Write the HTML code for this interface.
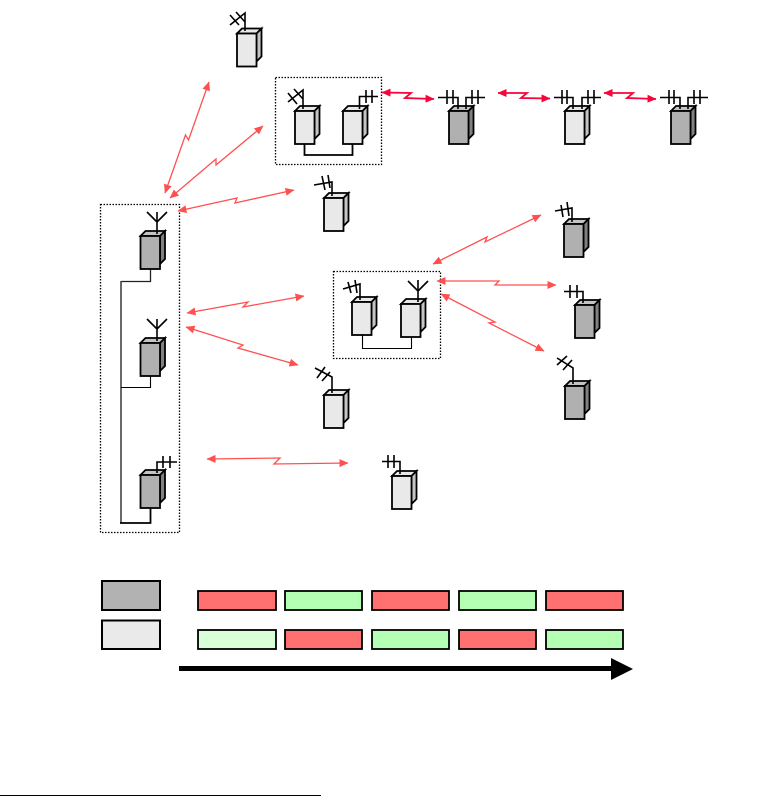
<!DOCTYPE html>
<html><head><meta charset="utf-8"><style>html,body{margin:0;padding:0;background:#fff}svg{display:block}</style></head><body>
<svg width="763" height="796" viewBox="0 0 763 796" xmlns="http://www.w3.org/2000/svg" fill="none" stroke="#000">
<defs>
<g id="d" stroke-width="1.8"><path d="M0 0l5-5h19.500l-5 5z" fill="#c4c4c4"/><path d="M19.500 0l5-5v28l-5 5z" fill="#808080"/><rect width="19.500" height="33" fill="#b0b0b0"/></g>
<g id="l" stroke-width="1.8"><path d="M0 0l5-5h19.500l-5 5z" fill="#e8e8e8"/><path d="M19.500 0l5-5v28l-5 5z" fill="#c4c4c4"/><rect width="19.500" height="33" fill="#e9e9e9"/></g>
<marker id="a" markerWidth="9" markerHeight="8" refX="8.500" refY="4" orient="auto-start-reverse" markerUnits="userSpaceOnUse"><path d="M0 0L9 4L0 8z" fill="#ff5050" stroke="none"/></marker>
<marker id="b" markerWidth="9" markerHeight="8" refX="8.500" refY="4" orient="auto-start-reverse" markerUnits="userSpaceOnUse"><path d="M0 0L9 4L0 8z" fill="#f5053a" stroke="none"/></marker>
</defs>

<!-- dotted groups -->
<g stroke-width="1.300" stroke-dasharray="1.500 1.500">
<rect x="100.500" y="204.500" width="79" height="328"/>
<rect x="275.500" y="77.500" width="106" height="87"/>
<rect x="333.500" y="271.500" width="107" height="87"/>
</g>

<!-- group wiring -->
<path d="M304.500 144V155H352.500V144" stroke-width="1.800"/>
<path d="M362.500 334V348.500H411.500V336" stroke-width="1.100"/>
<path d="M121 281.500H150.500V268" stroke-width="1.300" stroke="#222"/>
<path d="M121 281V523" stroke-width="1.600" stroke="#444"/>
<path d="M121 387.500H150.500V375" stroke-width="1.100"/>
<path d="M120 523H150.500V508" stroke-width="1.800"/>

<!-- boxes -->
<use href="#l" x="237" y="33.500"/>
<use href="#l" x="295" y="111"/>
<use href="#l" x="343" y="111"/>
<use href="#d" x="449" y="111"/>
<use href="#l" x="565" y="111"/>
<use href="#d" x="671" y="111"/>
<use href="#l" x="324" y="198"/>
<use href="#d" x="140.500" y="236"/>
<use href="#d" x="140.500" y="343"/>
<use href="#d" x="140.500" y="475"/>
<use href="#l" x="352" y="302"/>
<use href="#l" x="401" y="304"/>
<use href="#l" x="324" y="395"/>
<use href="#d" x="564" y="224"/>
<use href="#d" x="575" y="305"/>
<use href="#d" x="565" y="386"/>
<use href="#l" x="392" y="476"/>

<!-- antennas -->
<g stroke-width="1.600">
<path d="M245 31V13L230 25M230 15L239 25M236 12L245 22"/>
<path d="M303 109V90L288 102M288 93L297 104M294 89L303 99"/>
<path d="M359.500 109V96.500H378M366 90V103M372 90V103"/>
<path d="M458 109V97.500H438M447 90V104M453 90V104M466 109V97.500H485M472 90V104M478 90V104"/>
<path d="M573 109V97.500H554M562 90V104M567 90V104M582 109V97.500H601M588 90V104M594 90V104"/>
<path d="M680 109V97.500H660M669 90V104M674 90V104M688 109V97.500H708M694 90V104M700 90V104"/>
<path d="M157 234V212M157 222L147 212M157 222L167 212"/>
<path d="M157 341V319M157 329L147 319M157 329L167 319"/>
<path d="M157 473V462H177M163 456V468M170 456V468"/>
<path d="M332 196V182L314 185M322 176L325 190M328 175L330 188"/>
<path d="M360 300V284L343 289M348 282L351 293M355 280L357 293"/>
<path d="M418 302V280M418 291L408 281M418 291L428 281"/>
<path d="M332 393V377L315 368M317 378L325 367M322 381L330 372"/>
<path d="M400 474V461.500H382M388 455V468M394 455V468"/>
<path d="M572 222V208L555 211M561 205L563 217M567 202L569 216"/>
<path d="M583 303V291.500H564M570 285V298M577 285V298"/>
<path d="M573 384V368L557 358M557 365L567 356M563 370L572 360"/>
</g>

<!-- links -->
<g stroke="#ff5050" stroke-width="1.300">
<path d="M209 82L188.500 140L185.500 135L165 193" marker-start="url(#a)" marker-end="url(#a)"/>
<path d="M263 126L216 165L216 159L170 198" marker-start="url(#a)" marker-end="url(#a)"/>
<path d="M294 190L235 203L237 198L178 211" marker-start="url(#a)" marker-end="url(#a)"/>
<path d="M541 215L485 242L487 237L433 264" marker-start="url(#a)" marker-end="url(#a)"/>
<path d="M437 281L499 281L495 285L556 285" marker-start="url(#a)" marker-end="url(#a)"/>
<path d="M441 294L495 322L489 323L544 351" marker-start="url(#a)" marker-end="url(#a)"/>
<path d="M304 296L243 307L248 302L187 313" marker-start="url(#a)" marker-end="url(#a)"/>
<path d="M186 327L243 345L238 348L298 365" marker-start="url(#a)" marker-end="url(#a)"/>
<path d="M207 459L280 458L274 464L348 463" marker-start="url(#a)" marker-end="url(#a)"/>
</g>
<g stroke="#f5053a" stroke-width="1.800">
<path d="M382 92.500L411 93L405 98L434 99" marker-start="url(#b)" marker-end="url(#b)"/>
<path d="M498 93L527 93L521 98L550 98.500" marker-start="url(#b)" marker-end="url(#b)"/>
<path d="M604 93L633 93L627 98L656 99" marker-start="url(#b)" marker-end="url(#b)"/>
</g>

<!-- legend -->
<rect x="102" y="581" width="58" height="29" fill="#b2b2b2" stroke-width="2"/>
<rect x="102" y="620.500" width="58" height="28.500" fill="#eaeaea" stroke-width="2"/>
<g stroke-width="1.800">
<rect x="198" y="591" width="78" height="19" fill="#ff7070"/>
<rect x="285" y="591" width="77" height="19" fill="#b4ffb4"/>
<rect x="372" y="591" width="77" height="19" fill="#ff7070"/>
<rect x="459" y="591" width="77" height="19" fill="#b4ffb4"/>
<rect x="546" y="591" width="77" height="19" fill="#ff7070"/>
<rect x="198" y="630" width="78" height="19" fill="#d8ffd8"/>
<rect x="285" y="630" width="77" height="19" fill="#ff7070"/>
<rect x="372" y="630" width="77" height="19" fill="#b4ffb4"/>
<rect x="459" y="630" width="77" height="19" fill="#ff7070"/>
<rect x="546" y="630" width="77" height="19" fill="#b4ffb4"/>
</g>
<path d="M179 666h432v-8l22 11-22 11v-9H179z" fill="#000" stroke="none"/>
<path d="M0 795.500H321" stroke-width="1"/>
</svg>
</body></html>
